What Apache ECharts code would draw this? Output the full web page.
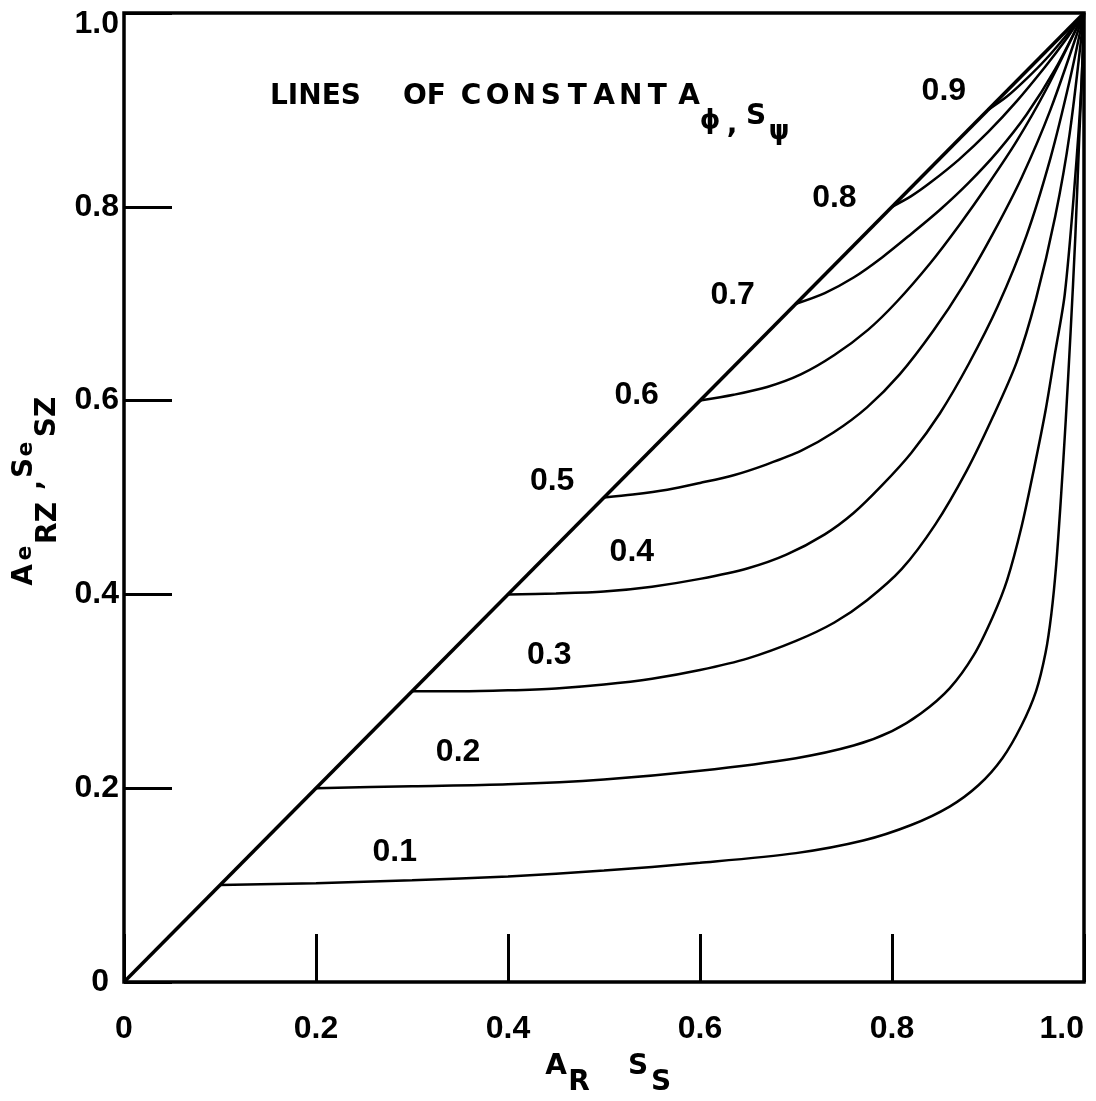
<!DOCTYPE html>
<html><head><meta charset="utf-8">
<script src="https://cdn.jsdelivr.net/npm/echarts@6/dist/echarts.min.js"></script>
<style>html,body{margin:0;padding:0;background:#fff}#c{width:1096px;height:1101px}</style>
</head><body><div id="c"></div>
<script>
// ---- data ----
const tickValues = [0, 0.2, 0.4, 0.6, 0.8, 1.0];
const diagonal = [[0, 0], [1, 1]];
const curve01 = [[0.1,0.1],[0.2,0.102],[0.3,0.105],[0.4,0.109],[0.5,0.115],[0.6,0.123],[0.7,0.133],[0.77,0.146],[0.82,0.162],[0.86,0.181],[0.89,0.203],[0.915,0.231],[0.935,0.265],[0.95,0.3],[0.96,0.34],[0.966,0.38],[0.971,0.43],[0.976,0.5],[0.981,0.58],[0.986,0.67],[0.991,0.77],[0.995,0.87],[0.998,0.94],[1,1]];
const curve02 = [[0.2,0.2],[0.3,0.202],[0.4,0.204],[0.5,0.209],[0.6,0.218],[0.7,0.231],[0.76,0.244],[0.8,0.259],[0.83,0.277],[0.86,0.303],[0.885,0.337],[0.905,0.377],[0.92,0.415],[0.935,0.47],[0.948,0.53],[0.96,0.59],[0.97,0.65],[0.98,0.71],[0.99,0.82],[0.997,0.92],[1,1]];
const curve03 = [[0.3,0.3],[0.35,0.3],[0.4,0.301],[0.45,0.303],[0.5,0.307],[0.55,0.313],[0.6,0.322],[0.65,0.334],[0.7,0.352],[0.74,0.371],[0.774,0.394],[0.81,0.426],[0.845,0.472],[0.878,0.528],[0.905,0.583],[0.93,0.64],[0.95,0.705],[0.97,0.79],[0.985,0.875],[1,1]];
const curve04 = [[0.4,0.4],[0.45,0.401],[0.5,0.403],[0.55,0.408],[0.6,0.416],[0.65,0.427],[0.69,0.441],[0.73,0.462],[0.76,0.484],[0.79,0.513],[0.82,0.546],[0.85,0.587],[0.88,0.638],[0.91,0.697],[0.94,0.77],[0.965,0.85],[0.985,0.93],[1,1]];
const curve05 = [[0.5,0.5],[0.53,0.503],[0.566,0.508],[0.6,0.515],[0.635,0.523],[0.669,0.534],[0.705,0.548],[0.739,0.567],[0.774,0.593],[0.808,0.627],[0.843,0.672],[0.875,0.72],[0.905,0.772],[0.935,0.83],[0.965,0.9],[1,1]];
const curve06 = [[0.6,0.6],[0.635,0.606],[0.67,0.614],[0.705,0.627],[0.74,0.647],[0.775,0.673],[0.805,0.702],[0.84,0.742],[0.87,0.781],[0.9,0.823],[0.93,0.868],[0.96,0.92],[1,1]];
const curve07 = [[0.7,0.7],[0.73,0.711],[0.76,0.727],[0.79,0.748],[0.82,0.772],[0.85,0.797],[0.88,0.825],[0.91,0.857],[0.94,0.895],[0.97,0.942],[1,1]];
const curve08 = [[0.8,0.8],[0.82,0.811],[0.84,0.825],[0.87,0.849],[0.9,0.877],[0.93,0.909],[0.96,0.945],[0.98,0.971],[1,1]];
const curve09 = [[0.9,0.9],[0.92,0.914],[0.94,0.932],[0.96,0.952],[0.98,0.975],[1,1]];
const curveNames = ['0.1','0.2','0.3','0.4','0.5','0.6','0.7','0.8','0.9'];
const labelX = [0.282, 0.348, 0.443, 0.529, 0.446, 0.534, 0.634, 0.740, 0.854];
const labelY = [0.134, 0.237, 0.337, 0.444, 0.517, 0.606, 0.709, 0.809, 0.919];

const curves = [curve01, curve02, curve03, curve04, curve05, curve06, curve07, curve08, curve09];

const chart = echarts.init(document.getElementById('c'), null, {renderer: 'canvas'});
const numFont = '"Liberation Sans", Arial, sans-serif';
const titleFont = '"DejaVu Sans", sans-serif';

function fmt(v) { return v === 0 ? '0' : v.toFixed(1); }

const series = [{
  type: 'line', data: diagonal, showSymbol: false, silent: true,
  lineStyle: {color: '#000', width: 3.5}, z: 3
}];
curves.forEach((c, i) => series.push({
  type: 'line', name: curveNames[i], data: c, showSymbol: false, silent: true,
  smooth: 0.3, lineStyle: {color: '#000', width: 2.5}, z: 3
}));
series.push({
  type: 'scatter', symbolSize: 0, silent: true, itemStyle: {opacity: 1},
  data: curveNames.map((n, i) => ({name: n, value: [labelX[i], labelY[i]]})),
  label: {show: true, position: 'inside', formatter: p => p.name, color: '#000', opacity: 1,
    fontFamily: numFont, fontWeight: 'bold', fontSize: 32}
});

const T = (text, x, y, size, rot, weight, align, fam) => ({
  type: 'text', x: x, y: y, rotation: rot || 0, silent: true,
  style: {text: text, fill: '#000', font: (weight || 'bold') + ' ' + size + 'px ' + (fam || titleFont),
    align: align || 'center', verticalAlign: 'middle'}
});
const R90 = Math.PI / 2;

const titleLetters = 'CONSTANT'.split('').map((ch, i) => T(ch, 471 + i * 26.6, 97, 28, 0, 'bold'));

chart.setOption({
  animation: false,
  backgroundColor: '#fff',
  grid: {left: 124, right: 12, top: 13, bottom: 119, show: true, borderColor: '#000', borderWidth: 3.5},
  xAxis: {
    type: 'value', min: 0, max: 1, interval: 0.2,
    axisLine: {show: false}, splitLine: {show: false},
    axisTick: {show: true, inside: true, length: 48, lineStyle: {color: '#000', width: 3}},
    axisLabel: {formatter: fmt, color: '#000', fontFamily: numFont, fontWeight: 'bold', fontSize: 32,
      margin: 31, alignMaxLabel: 'right'}
  },
  yAxis: {
    type: 'value', min: 0, max: 1, interval: 0.2,
    axisLine: {show: false}, splitLine: {show: false},
    axisTick: {show: true, inside: true, length: 48, lineStyle: {color: '#000', width: 3}},
    axisLabel: {
      formatter: v => v === 1 ? '{t|1.0}' : (v === 0 ? '{z|0}' : fmt(v)),
      color: '#000', fontFamily: numFont, fontWeight: 'bold', fontSize: 32, margin: 5,
      rich: {
        t: {padding: [22, 0, 0, 0], fontFamily: numFont, fontWeight: 'bold', fontSize: 32, color: '#000'},
        z: {padding: [0, 10, 0, 0], fontFamily: numFont, fontWeight: 'bold', fontSize: 32, color: '#000'}
      }
    }
  },
  graphic: [
    T('LINES', 270, 97, 28, 0, 'bold', 'left'),
    T('OF', 403, 97, 28, 0, 'bold', 'left'),
    ...titleLetters,
    T('A', 689, 97, 28, 0, 'bold'),
    T('\u03D5', 710, 121, 26, 0, 'bold'),
    T(',', 732, 126, 28, 0, 'bold'),
    T('S', 756, 117, 28, 0, 'bold'),
    T('\u03C8', 779, 132, 26, 0, 'bold'),
    // x-axis title
    T('A', 556, 1067, 28, 0, 'bold'),
    T('R', 579, 1083, 28, 0, 'bold'),
    T('S', 638, 1067, 28, 0, 'bold'),
    T('S', 661, 1083, 28, 0, 'bold'),
    // y-axis title (rotated)
    T('A', 25, 575, 28, R90, 'bold'),
    T('e', 25, 553, 22, R90, 'bold'),
    T('RZ', 49, 523, 28, R90, 'bold'),
    T(',', 34, 485, 26, R90, 'bold'),
    T('S', 25, 468, 28, R90, 'bold'),
    T('e', 26, 449, 22, R90, 'bold'),
    T('SZ', 48, 417, 28, R90, 'bold')
  ],
  series: series
});
</script>
</body></html>
